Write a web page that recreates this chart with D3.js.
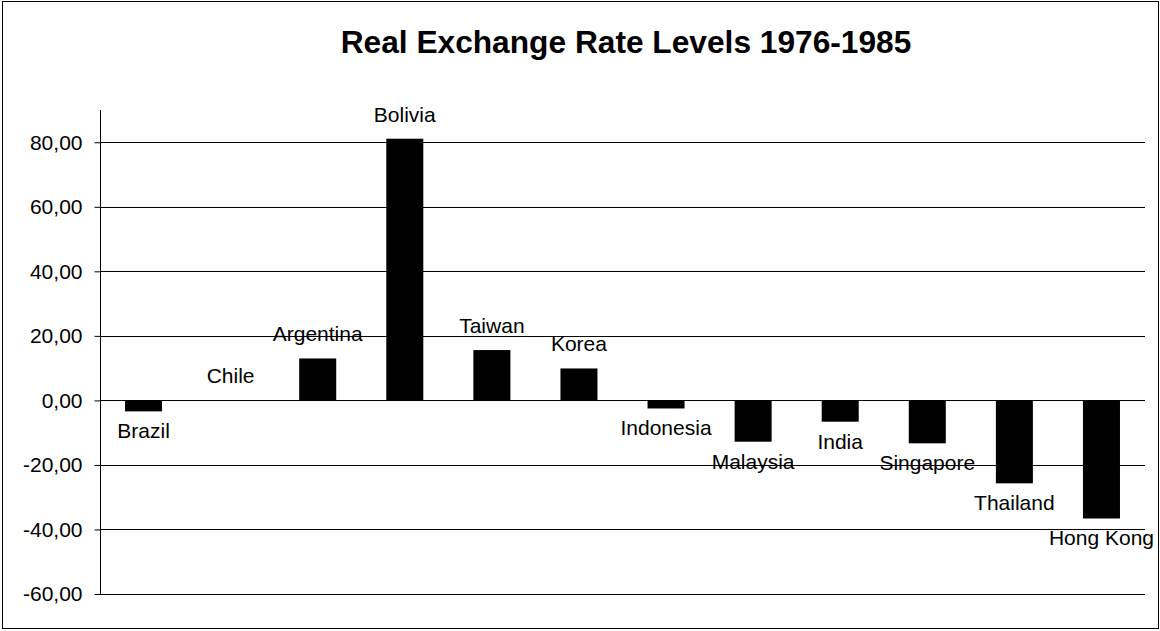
<!DOCTYPE html>
<html>
<head>
<meta charset="utf-8">
<script src="https://cdn.jsdelivr.net/npm/d3@7"></script>
<style>
  html, body { margin: 0; padding: 0; background: #fff; }
  svg { display: block; font-family: "Liberation Sans", Arial, sans-serif; }
</style>
</head>
<body>
<svg id="chart" width="1160" height="631"></svg>
<script>
const title = "Real Exchange Rate Levels 1976-1985";
const categories = ["Brazil", "Chile", "Argentina", "Bolivia", "Taiwan", "Korea",
  "Indonesia", "Malaysia", "India", "Singapore", "Thailand", "Hong Kong"];
const values = [-3.4, 0.0, 13.0, 81.1, 15.6, 9.9, -2.5, -12.8, -6.6, -13.3, -25.7, -36.6];
const tickValues = [-60, -40, -20, 0, 20, 40, 60, 80];
const tickLabels = ["-60,00", "-40,00", "-20,00", "0,00", "20,00", "40,00", "60,00", "80,00"];

(function () {
const svg = d3.select("#chart");
const plotLeft = 100, plotRight = 1145, plotTop = 110, plotBottom = 594;

// outer border
svg.append("rect")
  .attr("x", 2.5).attr("y", 1.5).attr("width", 1156).attr("height", 627)
  .attr("fill", "#fff").attr("stroke", "#000").attr("stroke-width", 1);

// title
svg.append("text")
  .attr("x", 626).attr("y", 53)
  .attr("text-anchor", "middle")
  .attr("font-size", 31.7).attr("font-weight", "bold")
  .text(title);

const x = d3.scaleBand().domain(categories).range([plotLeft, plotRight])
  .paddingInner(0.575).paddingOuter(0.2875);
const y = d3.scaleLinear().domain([-60, 90]).range([plotBottom, plotTop]);

// gridlines
svg.append("g").selectAll("line").data(tickValues).join("line")
  .attr("x1", plotLeft).attr("x2", plotRight)
  .attr("y1", d => Math.round(y(d)) + 0.5).attr("y2", d => Math.round(y(d)) + 0.5)
  .attr("stroke", "#000").attr("stroke-width", 1);

// y axis
const yAxis = d3.axisLeft(y).tickValues(tickValues)
  .tickFormat((d, i) => tickLabels[i]).tickSize(6).tickPadding(12);
const ga = svg.append("g").attr("transform", `translate(${plotLeft + 0.5},0)`).call(yAxis);
ga.select(".domain").remove();
ga.selectAll(".tick line").attr("stroke", "#000");
ga.selectAll(".tick text").attr("font-size", 21).attr("fill", "#000")
  .attr("font-family", "'Liberation Sans', Arial, sans-serif");
svg.append("line")
  .attr("x1", plotLeft + 0.5).attr("x2", plotLeft + 0.5)
  .attr("y1", plotTop).attr("y2", Math.round(y(-60)) + 1)
  .attr("stroke", "#000");

// bars
svg.append("g").selectAll("rect").data(values).join("rect")
  .attr("x", (d, i) => x(categories[i]))
  .attr("width", x.bandwidth())
  .attr("y", d => y(Math.max(0, d)))
  .attr("height", d => Math.abs(y(d) - y(0)))
  .attr("fill", "#000");

// labels
svg.append("g").selectAll("text").data(values).join("text")
  .attr("x", (d, i) => x(categories[i]) + x.bandwidth() / 2)
  .attr("y", d => d >= 0 ? y(d) - 17 : y(d) + 27)
  .attr("text-anchor", "middle")
  .attr("font-size", 21)
  .attr("fill", "#000")
  .text((d, i) => categories[i]);
})();
</script>
</body>
</html>
